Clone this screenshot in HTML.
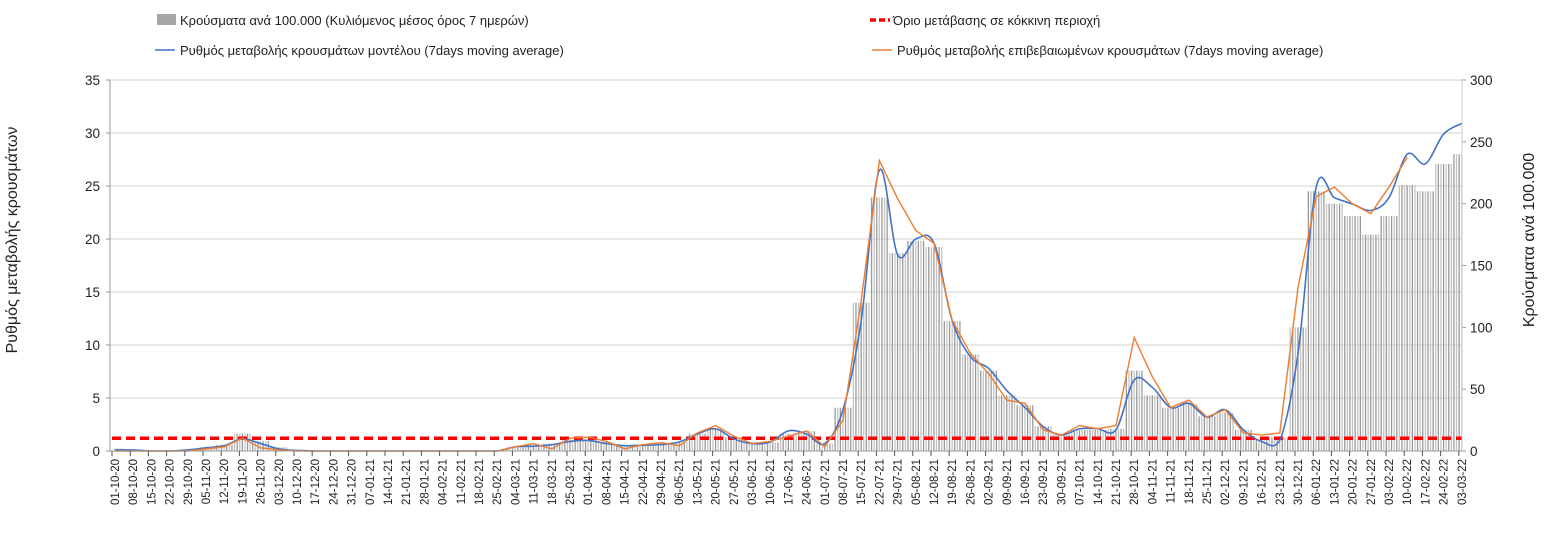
<!DOCTYPE html>
<html><head><meta charset="utf-8">
<style>
body{margin:0;background:#fff;}
svg{display:block;font-family:"Liberation Sans","DejaVu Sans",sans-serif;}
</style></head>
<body>
<svg id="chart" width="1555" height="536" viewBox="0 0 1555 536" xmlns="http://www.w3.org/2000/svg">
  <g id="grid"></g>
  <g id="bars"></g>
  <line id="thr" stroke="#ff0000" stroke-width="3.5" stroke-dasharray="9,5"/>
  <path id="blueLine" fill="none" stroke="#4472c4" stroke-width="1.6"/>
  <path id="orangeLine" fill="none" stroke="#ed7d31" stroke-width="1.4"/>
  <g id="axes"></g>
  <g id="legend" font-size="13" fill="#222">
    <g>
      <rect x="157" y="14" width="19" height="11" fill="#a6a6a6"/>
      <text x="180" y="25">Κρούσματα ανά 100.000 (Κυλιόμενος μέσος όρος 7 ημερών)</text>
    </g>
    <g>
      <line x1="870" y1="20" x2="890" y2="20" stroke="#ff0000" stroke-width="3.5" stroke-dasharray="6,3"/>
      <text x="893" y="25">Όριο μετάβασης σε κόκκινη περιοχή</text>
    </g>
    <g>
      <line x1="155" y1="50" x2="175" y2="50" stroke="#4472c4" stroke-width="1.6"/>
      <text x="180" y="55">Ρυθμός μεταβολής κρουσμάτων μοντέλου (7days moving average)</text>
    </g>
    <g>
      <line x1="872" y1="50" x2="892" y2="50" stroke="#ed7d31" stroke-width="1.6"/>
      <text x="897" y="55">Ρυθμός μεταβολής επιβεβαιωμένων κρουσμάτων (7days moving average)</text>
    </g>
  </g>
  <text transform="translate(17,240) rotate(-90)" text-anchor="middle" font-size="16" fill="#222">Ρυθμός μεταβολής κρουσμάτων</text>
  <text transform="translate(1534,240) rotate(-90)" text-anchor="middle" font-size="16" fill="#222">Κρούσματα ανά 100.000</text>
</svg>
<script>
const weekLabels = ["01-10-20","08-10-20","15-10-20","22-10-20","29-10-20","05-11-20","12-11-20","19-11-20","26-11-20","03-12-20","10-12-20","17-12-20","24-12-20","31-12-20","07-01-21","14-01-21","21-01-21","28-01-21","04-02-21","11-02-21","18-02-21","25-02-21","04-03-21","11-03-21","18-03-21","25-03-21","01-04-21","08-04-21","15-04-21","22-04-21","29-04-21","06-05-21","13-05-21","20-05-21","27-05-21","03-06-21","10-06-21","17-06-21","24-06-21","01-07-21","08-07-21","15-07-21","22-07-21","29-07-21","05-08-21","12-08-21","19-08-21","26-08-21","02-09-21","09-09-21","16-09-21","23-09-21","30-09-21","07-10-21","14-10-21","21-10-21","28-10-21","04-11-21","11-11-21","18-11-21","25-11-21","02-12-21","09-12-21","16-12-21","23-12-21","30-12-21","06-01-22","13-01-22","20-01-22","27-01-22","03-02-22","10-02-22","17-02-22","24-02-22","03-03-22"];
const leftTicks = [0,5,10,15,20,25,30,35];
const rightTicks = [0,50,100,150,200,250,300];
const threshold = 1.2;
const barsWeekly = [2,1,0,0,1,2,5,14,8,3,1,0,0,0,0,0,0,0,0,0,0,0,3,5,6,9,9,7,5,5,6,7,14,18,11,7,7,14,16,6,35,120,205,160,170,165,105,78,65,45,37,20,13,17,17,18,65,45,35,38,28,31,17,10,11,100,210,200,190,175,190,215,210,232,240];
const modelWeekly = [0.1,0.1,0,0,0.1,0.3,0.5,1.15,0.7,0.2,0.05,0,0,0,0,0,0,0,0,0,0,0,0.4,0.45,0.6,0.9,1.0,0.7,0.5,0.55,0.6,0.85,1.6,2.1,1.15,0.7,0.85,1.9,1.6,0.7,3.9,12.3,26.5,18.5,20,19.6,12.3,8.9,7.8,5.7,4.1,2.3,1.5,2.1,2.1,2.0,6.7,6.0,4.1,4.5,3.2,3.9,2.0,0.9,1.0,9.2,24.9,23.9,23.3,22.7,23.9,28.0,27.1,29.9,30.9];
const confirmedWeekly = [0,0,0,0,0,0.2,0.4,1.2,0.3,0.1,0,0,0,0,0,0,0,0,0,0,0,0,0.4,0.7,0.2,1.2,1.3,0.9,0.2,0.6,0.8,0.5,1.7,2.4,1.4,0.7,0.9,1.4,1.9,0.4,2.9,14.2,27.4,23.8,20.8,19.6,12.3,9.2,7.3,4.8,4.5,2.0,1.5,2.4,2.1,2.4,10.7,7.0,4.1,4.8,3.2,3.9,1.7,1.5,1.7,15.4,24,24.9,23.3,22.4,24.9,27.7];

const NS="http://www.w3.org/2000/svg";
const X0=115, DAY=2.6, PL=110, PR=1462, Y0=451, YT=80;
const xDay = d => X0 + d*DAY;
const xWeek = i => xDay(i*7);
const yL = v => Y0 - v*(Y0-YT)/35;
const yR = v => Y0 - v*(Y0-YT)/300;
function mk(tag, attrs, parent){const e=document.createElementNS(NS,tag);for(const k in attrs)e.setAttribute(k,attrs[k]);parent.appendChild(e);return e;}

const grid=document.getElementById('grid'), axes=document.getElementById('axes'), bars=document.getElementById('bars');
leftTicks.forEach(v=>{
  if(v>0){const g=mk('line',{x1:PL,x2:PR,y1:yL(v),y2:yL(v),stroke:'#d9d9d9','stroke-width':1.2},grid);
  
  }
  const t=mk('text',{x:100,y:yL(v)+5,'text-anchor':'end','font-size':13.5,fill:'#222'},axes);
  t.textContent=v;
  
  
});
rightTicks.forEach(v=>{
  const t=mk('text',{x:1470,y:yR(v)+5,'font-size':13.5,fill:'#222'},axes);
  t.textContent=v;
  
  
  mk('line',{x1:PR,x2:PR+4,y1:yR(v),y2:yR(v),stroke:'#999'},axes);
});
mk('line',{x1:PL,x2:PL,y1:YT,y2:Y0,stroke:'#999'},axes);
mk('line',{x1:PR,x2:PR,y1:YT,y2:Y0,stroke:'#ccc'},axes);
mk('line',{x1:PL,x2:PR,y1:Y0,y2:Y0,stroke:'#999'},axes);
leftTicks.forEach(v=>mk('line',{x1:PL-4,x2:PL,y1:yL(v),y2:yL(v),stroke:'#999'},axes));
weekLabels.forEach((s,i)=>{
  const x=xWeek(i);
  mk('line',{x1:x-3,x2:x-3,y1:Y0,y2:Y0+5,stroke:'#555'},axes);
  const t=mk('text',{transform:`translate(${x+4},${459}) rotate(-90)`,'text-anchor':'end','font-size':11.5,fill:'#222'},axes);
  t.textContent=s;
  
  
});

// daily bars, centred on each week's point
barsWeekly.forEach((v,i)=>{
  for(let d=-3; d<=3; d++){
    const day=i*7+d; if(day<0||day>518) continue;
    if(v<=0) continue;
    const x=xDay(day)-0.7;
    const r=mk('rect',{x:x,y:yR(v),width:1.3,height:Y0-yR(v),fill:((day%2)? '#9a9a9a':'#c4c4c4')},bars);
    
    
  }
});

const thr=document.getElementById('thr');
thr.setAttribute('x1',PL+2);thr.setAttribute('x2',PR);thr.setAttribute('y1',yL(threshold));thr.setAttribute('y2',yL(threshold));

function smoothPath(vals){
  const p=vals.map((v,i)=>[xWeek(i),yL(v)]);
  let d=`M${p[0][0]},${p[0][1]}`;
  for(let i=0;i<p.length-1;i++){
    const p0=p[i-1]||p[i], p1=p[i], p2=p[i+1], p3=p[i+2]||p2;
    const c1=[p1[0]+(p2[0]-p0[0])/6, p1[1]+(p2[1]-p0[1])/6];
    const c2=[p2[0]-(p3[0]-p1[0])/6, p2[1]-(p3[1]-p1[1])/6];
    d+=` C${c1[0]},${Math.min(Y0,c1[1])} ${c2[0]},${Math.min(Y0,c2[1])} ${p2[0]},${p2[1]}`;
  }
  return d;
}
function polyPath(vals){return vals.map((v,i)=>(i?'L':'M')+xWeek(i)+','+yL(v)).join(' ');}
document.getElementById('blueLine').setAttribute('d',smoothPath(modelWeekly));
document.getElementById('orangeLine').setAttribute('d',polyPath(confirmedWeekly));
</script>
</body></html>
